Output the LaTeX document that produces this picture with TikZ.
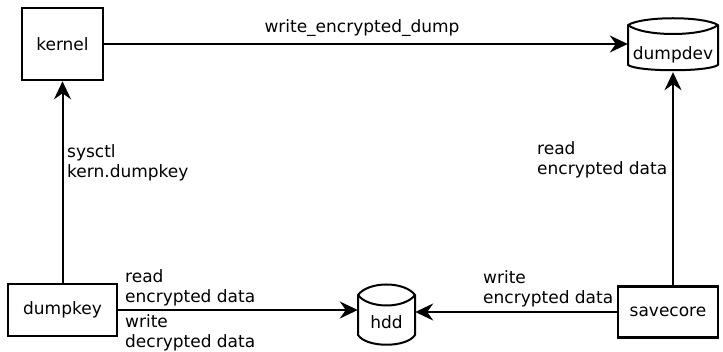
\documentclass[tikz,border=0pt]{standalone}
\usepackage{fontspec}
\setmainfont{DejaVu Sans}
\usetikzlibrary{arrows.meta}
\begin{document}
\begin{tikzpicture}[x=1pt,y=-1pt,
  every node/.style={font=\fontsize{17}{20}\selectfont},
  box/.style={draw,line width=2.6pt,rectangle,inner sep=0pt},
  disk/.style={inner sep=0pt},
  cyl/.style={line width=2pt,line join=round},
  conn/.style={line width=2pt,-{Stealth[length=18pt,width=17pt,inset=6pt]}},
  lbl/.style={inner sep=0pt,align=left,anchor=west}]
\useasboundingbox (0,0) rectangle (723,352);
\node[box,minimum width=81pt,minimum height=72pt] (kernel) at (62.5,44) {kernel};
\node[disk,minimum width=90pt,minimum height=34pt] (dumpdev) at (673,55) {dumpdev};
\node[box,minimum width=109pt,minimum height=52pt] (dumpkey) at (62.5,310) {dumpkey};
\node[disk,minimum width=57pt,minimum height=50pt] (hdd) at (386.5,322) {hdd};
\node[box,minimum width=100pt,minimum height=51pt] (savecore) at (668,312) {savecore};
% dumpdev disk outline
\begin{scope}[shift={(dumpdev.center)}]
  \draw[cyl] (-45,-30) .. controls (-30,-39) and (30,-39) .. (45,-30)
    -- (45,10) .. controls (35,17) and (-35,17) .. (-45,10) -- cycle;
  \draw[cyl] (-45,-30) .. controls (-30,-18) and (30,-18) .. (45,-30);
\end{scope}
% hdd disk outline
\begin{scope}[shift={(hdd.center)}]
  \draw[cyl] (-28.5,-27) .. controls (-18,-41) and (18,-41) .. (28.5,-27)
    -- (28.5,13) .. controls (20,26) and (-20,26) .. (-28.5,13) -- cycle;
  \draw[cyl] (-28.5,-27) .. controls (-18,-13) and (18,-13) .. (28.5,-27);
\end{scope}
\draw[conn] (kernel.east) -- (kernel.east -| dumpdev.west);
\draw[conn] (dumpkey.north -| kernel.south) -- (kernel.south);
\draw[conn] (dumpkey.east) -- (dumpkey.east -| hdd.west);
\draw[conn] (savecore.west) -- (savecore.west -| hdd.east);
\draw[conn] (dumpdev.south |- savecore.north) -- (dumpdev.south);
\node[inner sep=0pt] (l1) at (362,28) {write\_encrypted\_dump};
\node[lbl] (l2) at (67,163) {sysctl\\kern.dumpkey};
\node[lbl] (l3) at (537,160) {read\\encrypted data};
\node[lbl] (l4) at (125,288) {read\\encrypted data};
\node[lbl] (l5) at (125,333) {write\\decrypted data};
\node[lbl] (l6) at (483,289) {write\\encrypted data};
\end{tikzpicture}
\end{document}
